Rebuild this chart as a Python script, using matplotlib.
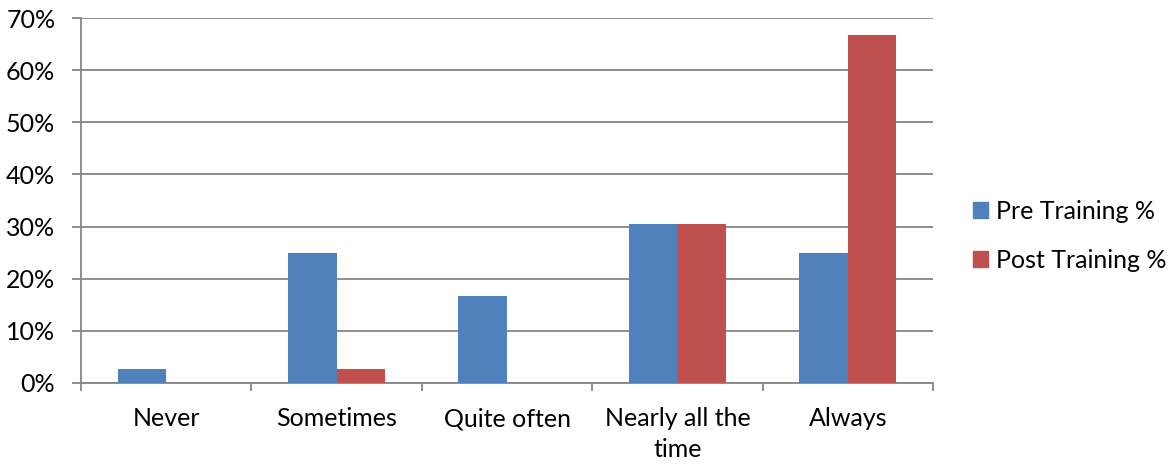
import matplotlib
matplotlib.use("Agg")
import matplotlib.pyplot as plt
from matplotlib.patches import Patch
import numpy as np

categories = ["Never", "Sometimes", "Quite often", "Nearly all the\ntime", "Always"]
pre_training = [2.78, 25.0, 16.67, 30.56, 25.0]
post_training = [0.0, 2.78, 0.0, 30.56, 66.67]
series_names = ["Pre Training %", "Post Training %"]
y_ticks = [0, 10, 20, 30, 40, 50, 60, 70]

BLUE = "#4F81BD"
RED = "#C0504D"
GRID = "#868686"
FS = 18

plt.rcParams["font.family"] = ["Lato", "DejaVu Sans"]

fig = plt.figure(figsize=(11.72, 4.65), dpi=100)
ax = fig.add_axes([81 / 1172, 1 - 383 / 465, (933 - 81) / 1172, (383 - 18) / 465])

x = np.arange(len(categories))
w = 1 / 3.5
ax.bar(x - w / 2, pre_training, width=w, color=BLUE, label=series_names[0], zorder=3)
ax.bar(x + w / 2, post_training, width=w, color=RED, label=series_names[1], zorder=3)

ax.set_xlim(-0.5, len(categories) - 0.5)
ax.set_ylim(0, 70)
ax.set_yticks(y_ticks)
ax.set_yticklabels([f"{t}%" for t in y_ticks], fontsize=FS, color="#000000")
ax.yaxis.grid(True, color=GRID, linewidth=1.3, zorder=0)
ax.set_axisbelow(True)

ax.set_xticks(x)
ax.set_xticklabels(categories, fontsize=FS, linespacing=1.4)
ax.tick_params(axis="x", length=0, pad=17.5)
ax.set_xticks(np.arange(-0.5, len(categories), 1), minor=True)
ax.tick_params(axis="x", which="minor", length=5.5, width=1.3, color=GRID, direction="out")
ax.tick_params(axis="y", length=6.5, width=1.3, color=GRID, direction="out", pad=12)

for side in ["top", "right"]:
    ax.spines[side].set_visible(False)
for side in ["left", "bottom"]:
    ax.spines[side].set_color(GRID)
    ax.spines[side].set_linewidth(1.3)

handles = [Patch(color=BLUE), Patch(color=RED)]
fig.legend(handles, series_names, loc="center left", bbox_to_anchor=(968 / 1172, 1 - 236 / 465),
           frameon=False, fontsize=FS, handlelength=0.6, handleheight=0.6,
           handletextpad=0.3, labelspacing=1.05, borderpad=0.2, borderaxespad=0)

fig.savefig("out.png", dpi=100)
